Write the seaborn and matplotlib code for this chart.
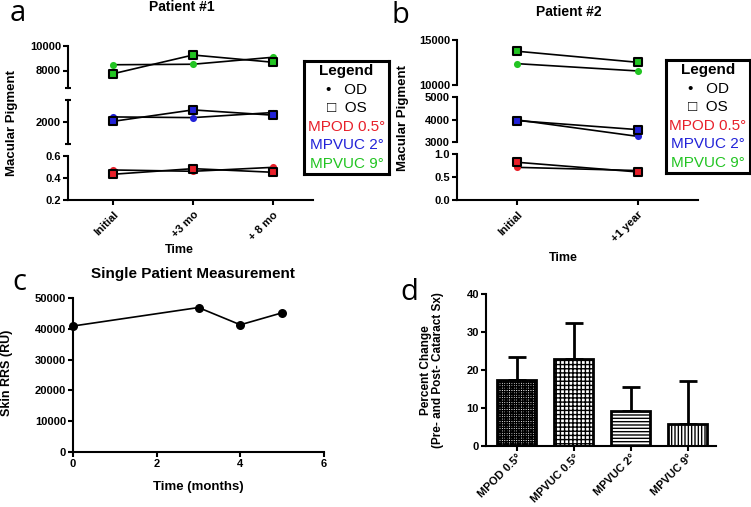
import numpy as np
import pandas as pd
import matplotlib
matplotlib.use("Agg")
import matplotlib.pyplot as plt
import seaborn as sns

# ---- data ----
p1_times = ["Initial", "+3 mo", "+ 8 mo"]
p1_mpod_od = [0.473, 0.461, 0.497]
p1_mpod_os = [0.434, 0.485, 0.452]
p1_mpvuc2_od = [2230, 2200, 2430]
p1_mpvuc2_os = [2030, 2550, 2310]
p1_mpvuc9_od = [8460, 8500, 9060]
p1_mpvuc9_os = [7740, 9240, 8660]

p2_times = ["Initial", "+1 year"]
p2_mpod_od = [0.71, 0.64]
p2_mpod_os = [0.82, 0.61]
p2_mpvuc2_od = [3980, 3250]
p2_mpvuc2_os = [3950, 3550]
p2_mpvuc9_od = [12370, 11560]
p2_mpvuc9_os = [13750, 12520]

skin_months = [0, 3, 4, 5]
skin_rrs = [40900, 46900, 41300, 45200]

change_labels = ["MPOD 0.5°", "MPVUC 0.5°", "MPVUC 2°", "MPVUC 9°"]
change_mean = [17.3, 22.9, 9.2, 5.9]
change_err = [6.0, 9.5, 6.2, 11.1]
change_hatch = ["+++++++", "++++", "-----", "|||||"]

RED, BLUE, GREEN = "#e8202a", "#2222d8", "#22c422"

sns.set_theme(style="ticks")
plt.rcParams["font.family"] = ["Liberation Sans", "DejaVu Sans"]
plt.rcParams.update({
    "axes.edgecolor": "black", "xtick.color": "black", "ytick.color": "black",
    "text.color": "black", "axes.linewidth": 1.5,
    "xtick.major.width": 1.5, "ytick.major.width": 1.5,
    "xtick.major.size": 3.5, "ytick.major.size": 3.5,
    "hatch.linewidth": 1.0,
})

W, H = 751, 507
fig = plt.figure(figsize=(W / 100, H / 100), dpi=100)


def add_ax(l, t, r, b):
    return fig.add_axes([l / W, 1 - b / H, (r - l) / W, (b - t) / H])


def ftext(x, y, s, **kw):
    return fig.text(x / W, 1 - y / H, s, **kw)


def style_seg(ax, lo, hi, ticks, labels, xlim, bottom=False):
    ax.set_ylim(lo, hi)
    ax.set_xlim(*xlim)
    ax.set_yticks(ticks)
    ax.set_yticklabels(labels, fontsize=8, fontweight="bold")
    ax.set_yticks([lo, hi], minor=True)
    ax.tick_params(axis="y", which="minor", direction="inout", length=5, width=1.5)
    ax.tick_params(axis="y", which="major", pad=1.5)
    for s in ["top", "right"]:
        ax.spines[s].set_visible(False)
    if not bottom:
        ax.spines["bottom"].set_visible(False)
        ax.set_xticks([])
    ax.set_xlabel("")
    ax.set_ylabel("")
    ax.patch.set_alpha(0)


def draw_pair(ax, x, od, os_, color):
    df = pd.DataFrame({"x": list(x) * 2, "y": list(od) + list(os_),
                       "eye": ["OD"] * len(x) + ["OS"] * len(x)})
    sns.lineplot(data=df, x="x", y="y", units="eye", estimator=None,
                 color="black", lw=1.2, ax=ax, legend=False)
    sns.scatterplot(x=x, y=od, color=color, marker="o", s=26, linewidth=0,
                    ax=ax, zorder=3, clip_on=False)
    sns.scatterplot(x=x, y=os_, color=color, marker="s", s=36, edgecolor="black",
                    linewidth=1.5, ax=ax, zorder=4, clip_on=False)


def draw_legend(l, t, r, b):
    lg = add_ax(l, t, r, b)
    lg.set_xticks([])
    lg.set_yticks([])
    for s in lg.spines.values():
        s.set_linewidth(2.2)
    rows = [("Legend", "black", "bold"), ("•   OD", "black", "normal"),
            ("□  OS", "black", "normal"), ("MPOD 0.5°", RED, "normal"),
            ("MPVUC 2°", BLUE, "normal"), ("MPVUC 9°", GREEN, "normal")]
    n = len(rows)
    for i, (s, c, w) in enumerate(rows):
        lg.text(0.5, 1 - (i + 0.55) / (n + 0.1), s, color=c, fontweight=w,
                fontsize=11, ha="center", va="center", transform=lg.transAxes)


# ---- panel a ----
xa = np.arange(len(p1_times))
xlim_a = (-0.5625, 2.5)
a_top = add_ax(68, 45.5, 313, 88)
a_mid = add_ax(68, 100, 313, 144)
a_low = add_ax(68, 156, 313, 200)
draw_pair(a_top, xa, p1_mpvuc9_od, p1_mpvuc9_os, GREEN)
draw_pair(a_mid, xa, p1_mpvuc2_od, p1_mpvuc2_os, BLUE)
draw_pair(a_low, xa, p1_mpod_od, p1_mpod_os, RED)
style_seg(a_top, 6600, 10000, [8000, 10000], ["8000", "10000"], xlim_a)
style_seg(a_mid, 1000, 3000, [2000], ["2000"], xlim_a)
style_seg(a_low, 0.2, 0.6, [0.2, 0.4, 0.6], ["0.2", "0.4", "0.6"], xlim_a, bottom=True)
a_low.set_xticks(xa)
a_low.set_xticklabels(p1_times, rotation=45, ha="right", rotation_mode="anchor",
                      fontsize=8, fontweight="bold")
draw_legend(304, 61, 389, 174)
ftext(182, 7, "Patient #1", fontsize=10, fontweight="bold", ha="center", va="center")
ftext(12, 123, "Macular Pigment", fontsize=9.5, fontweight="bold", rotation=90,
      ha="center", va="center")
ftext(179, 250, "Time", fontsize=9, fontweight="bold", ha="center", va="center")

# ---- panel b ----
xb = np.arange(len(p2_times))
xlim_b = (-0.5, 1.5)
b_top = add_ax(457, 40, 698, 85)
b_mid = add_ax(457, 97, 698, 142)
b_low = add_ax(457, 154, 698, 200)
draw_pair(b_top, xb, p2_mpvuc9_od, p2_mpvuc9_os, GREEN)
draw_pair(b_mid, xb, p2_mpvuc2_od, p2_mpvuc2_os, BLUE)
draw_pair(b_low, xb, p2_mpod_od, p2_mpod_os, RED)
style_seg(b_top, 10000, 15000, [10000, 15000], ["10000", "15000"], xlim_b)
style_seg(b_mid, 3000, 5000, [3000, 4000, 5000], ["3000", "4000", "5000"], xlim_b)
style_seg(b_low, 0, 1.0, [0, 0.5, 1.0], ["0.0", "0.5", "1.0"], xlim_b, bottom=True)
for ax in (b_top, b_mid, b_low):
    ax.tick_params(axis="y", which="minor", length=0)
b_low.set_xticks(xb)
b_low.set_xticklabels(p2_times, rotation=45, ha="right", rotation_mode="anchor",
                      fontsize=8, fontweight="bold")
draw_legend(666, 60, 750, 173)
ftext(569, 12, "Patient #2", fontsize=10, fontweight="bold", ha="center", va="center")
ftext(403, 118, "Macular Pigment", fontsize=9.5, fontweight="bold", rotation=90,
      ha="center", va="center")
ftext(563, 258, "Time", fontsize=9, fontweight="bold", ha="center", va="center")

# ---- panel c ----
c_ax = add_ax(73, 298, 324, 452)
sns.lineplot(x=skin_months, y=skin_rrs, marker="o", markersize=6.5, color="black",
             lw=1.2, markeredgewidth=0, ax=c_ax, clip_on=False)
c_ax.set_xlim(0, 6)
c_ax.set_ylim(0, 50000)
c_ax.set_xticks([0, 2, 4, 6])
c_ax.set_yticks(range(0, 50001, 10000))
c_ax.tick_params(labelsize=8, pad=1.5)
for lab in c_ax.get_xticklabels() + c_ax.get_yticklabels():
    lab.set_fontweight("bold")
sns.despine(ax=c_ax)
ftext(193, 274, "Single Patient Measurement", fontsize=11, fontweight="bold",
      ha="center", va="center")
ftext(7, 373, "Skin RRS (RU)", fontsize=9, fontweight="bold", rotation=90,
      ha="center", va="center")
ftext(198, 487, "Time (months)", fontsize=9.5, fontweight="bold", ha="center", va="center")

# ---- panel d ----
d_ax = add_ax(486, 294, 716, 446)
sns.barplot(x=change_labels, y=change_mean, color="white", edgecolor="black",
            linewidth=2, width=0.68, ax=d_ax, zorder=2)
for patch, h in zip(d_ax.patches, change_hatch):
    patch.set_hatch(h)
d_ax.errorbar(np.arange(len(change_mean)), change_mean,
              yerr=[np.zeros(len(change_err)), change_err], fmt="none",
              ecolor="black", elinewidth=2, capsize=6.5, capthick=2, zorder=1)
d_ax.set_xlim(-0.54, 3.5)
d_ax.set_ylim(0, 40)
d_ax.set_yticks(range(0, 41, 10))
d_ax.tick_params(labelsize=8, pad=1.5)
d_ax.tick_params(axis="x", pad=1)
d_ax.set_xticks(range(len(change_labels)))
d_ax.set_xticklabels(change_labels, rotation=45, ha="right", rotation_mode="anchor",
                     fontsize=8, fontweight="bold")
for lab in d_ax.get_yticklabels():
    lab.set_fontweight("bold")
sns.despine(ax=d_ax)
ftext(432, 370, "Percent Change\n(Pre- and Post- Cataract Sx)", fontsize=8.5,
      fontweight="bold", rotation=90, ha="center", va="center", linespacing=1.1)

# ---- panel letters ----
for x, y, s in [(10, 21, "a"), (392, 23, "b"), (12, 290, "c"), (400, 300, "d")]:
    ftext(x, y, s, fontsize=21, family="Open Sans", ha="left", va="baseline")

fig.savefig("out.png", dpi=100)
